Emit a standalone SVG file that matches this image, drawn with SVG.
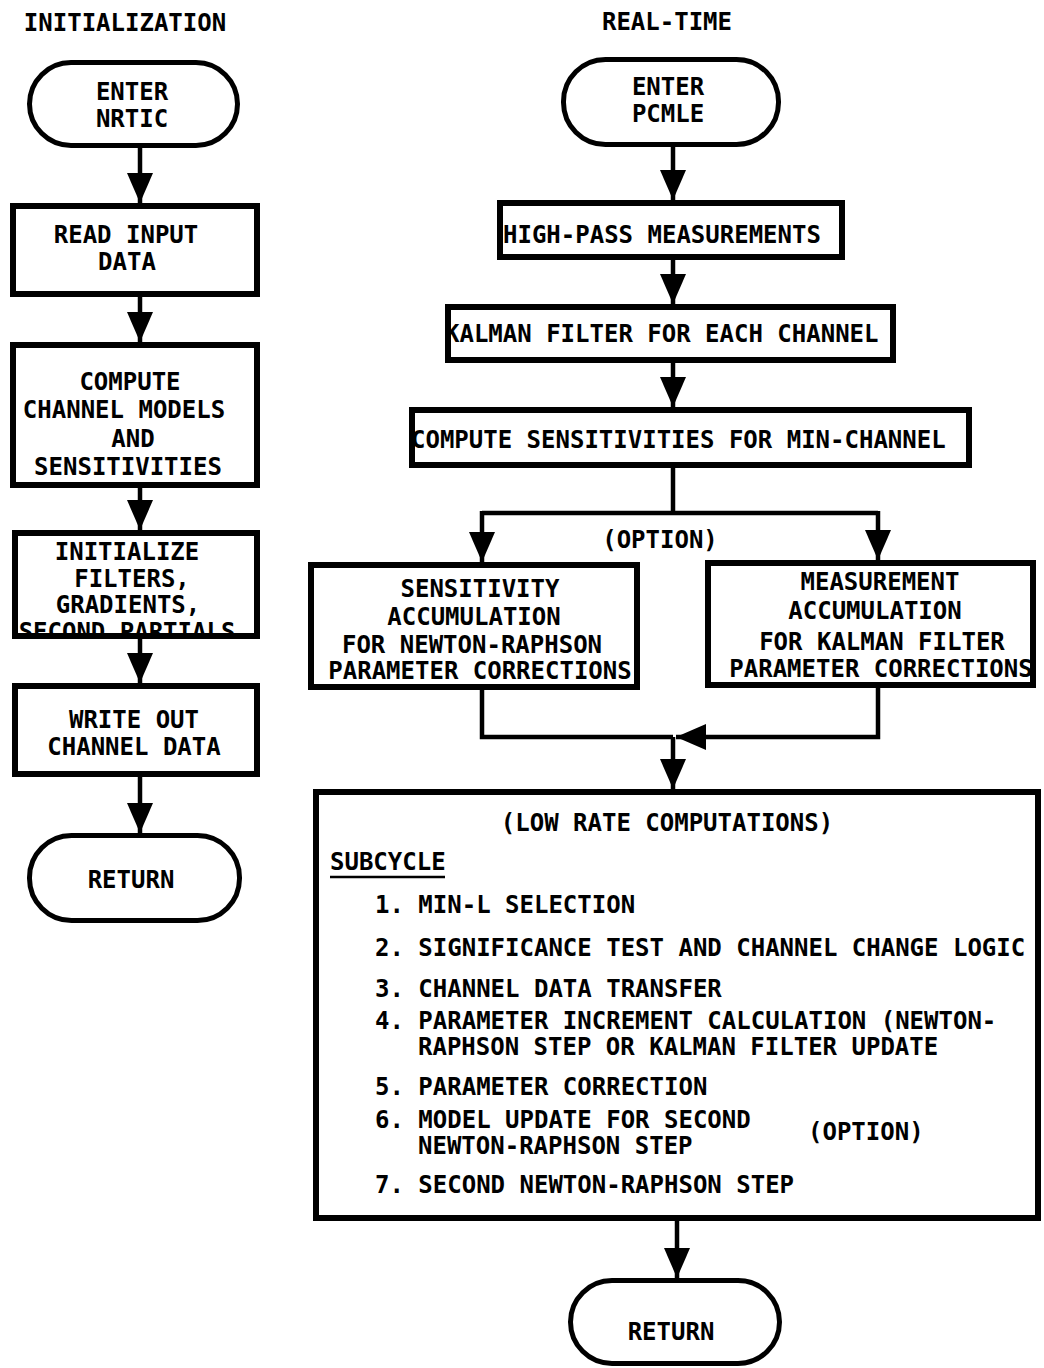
<svg xmlns="http://www.w3.org/2000/svg" width="1044" height="1368" viewBox="0 0 1044 1368">
<style>
text{font-family:"DejaVu Sans Mono","Liberation Mono",monospace;font-weight:bold;font-size:24px;fill:#000}
.c{text-anchor:middle}
.box{fill:none;stroke:#000;stroke-width:6}
.pill{fill:none;stroke:#000;stroke-width:5}
.ln{fill:none;stroke:#000;stroke-width:4.5}
</style>
<defs>
<marker id="ah" markerUnits="userSpaceOnUse" viewBox="0 0 30 26" markerWidth="30" markerHeight="26" refX="30" refY="13" orient="auto">
<path d="M0 0 L30 13 L0 26 Z" fill="#000"/>
</marker>
</defs>
<rect width="1044" height="1368" fill="#fff"/>
<text class="c" x="125" y="31">INITIALIZATION</text>
<text class="c" x="667" y="30">REAL-TIME</text>

<g id="enter-nrtic">
<rect class="pill" x="29.5" y="62.5" width="208" height="83" rx="41.5"/>
<text class="c" x="132" y="100">ENTER</text>
<text class="c" x="132" y="127">NRTIC</text>
</g>
<g id="read-input">
<text class="c" x="126" y="243">READ INPUT</text>
<text class="c" x="127" y="270">DATA</text>
<rect class="box" x="13" y="206" width="244" height="88"/>
</g>
<g id="compute-models">
<text class="c" x="130" y="390">COMPUTE</text>
<text class="c" x="124" y="418">CHANNEL MODELS</text>
<text class="c" x="133" y="447">AND</text>
<text class="c" x="128" y="475">SENSITIVITIES</text>
<rect class="box" x="13" y="345" width="244" height="140"/>
</g>
<g id="initialize">
<text class="c" x="127" y="560">INITIALIZE</text>
<text class="c" x="132" y="587">FILTERS,</text>
<text class="c" x="128" y="613">GRADIENTS,</text>
<text class="c" x="127" y="640">SECOND PARTIALS</text>
<rect fill="#fff" x="10" y="636" width="252" height="20"/>
<rect class="box" x="15" y="533" width="242" height="103"/>
</g>
<g id="write-out">
<text class="c" x="134" y="728">WRITE OUT</text>
<text class="c" x="134" y="755">CHANNEL DATA</text>
<rect class="box" x="15" y="686" width="242" height="88"/>
</g>
<g id="return-left">
<rect class="pill" x="29.5" y="835.5" width="210" height="85" rx="42"/>
<text class="c" x="131" y="888">RETURN</text>
</g>

<g id="enter-pcmle">
<rect class="pill" x="563.5" y="59.5" width="215" height="85" rx="42"/>
<text class="c" x="668" y="95">ENTER</text>
<text class="c" x="668" y="122">PCMLE</text>
</g>
<g id="high-pass">
<text x="503" y="243">HIGH-PASS MEASUREMENTS</text>
<rect class="box" x="500" y="203" width="342" height="54"/>
</g>
<g id="kalman">
<text x="445" y="342">KALMAN FILTER FOR EACH CHANNEL</text>
<rect class="box" x="448" y="307" width="445" height="53"/>
</g>
<g id="compute-sens">
<text x="411" y="448">COMPUTE SENSITIVITIES FOR MIN-CHANNEL</text>
<rect class="box" x="412" y="410" width="557" height="55"/>
</g>
<text class="c" x="660" y="548">(OPTION)</text>
<g id="sens-accum">
<text class="c" x="480" y="597">SENSITIVITY</text>
<text class="c" x="474" y="625">ACCUMULATION</text>
<text class="c" x="472" y="653">FOR NEWTON-RAPHSON</text>
<text class="c" x="480" y="679">PARAMETER CORRECTIONS</text>
<rect class="box" x="311" y="565" width="326" height="122"/>
</g>
<g id="meas-accum">
<text class="c" x="880" y="590">MEASUREMENT</text>
<text class="c" x="875" y="619">ACCUMULATION</text>
<text class="c" x="882" y="650">FOR KALMAN FILTER</text>
<text class="c" x="881" y="677">PARAMETER CORRECTIONS</text>
<rect class="box" x="708" y="563" width="325" height="122"/>
</g>
<g id="low-rate">
<rect class="box" x="316" y="792" width="722" height="426"/>
<text class="c" x="667" y="831">(LOW RATE COMPUTATIONS)</text>
<text x="330" y="870">SUBCYCLE</text>
<line x1="330" y1="877" x2="445" y2="877" stroke="#000" stroke-width="2.5"/>
<text x="375" y="913">1. MIN-L SELECTION</text>
<text x="375" y="956">2. SIGNIFICANCE TEST AND CHANNEL CHANGE LOGIC</text>
<text x="375" y="997">3. CHANNEL DATA TRANSFER</text>
<text x="375" y="1029">4. PARAMETER INCREMENT CALCULATION (NEWTON-</text>
<text x="418" y="1055">RAPHSON STEP OR KALMAN FILTER UPDATE</text>
<text x="375" y="1095">5. PARAMETER CORRECTION</text>
<text x="375" y="1128">6. MODEL UPDATE FOR SECOND</text>
<text x="418" y="1154">NEWTON-RAPHSON STEP</text>
<text x="808" y="1140">(OPTION)</text>
<text x="375" y="1193">7. SECOND NEWTON-RAPHSON STEP</text>
</g>
<g id="return-right">
<rect class="pill" x="570.5" y="1280.5" width="209" height="83" rx="41.5"/>
<text class="c" x="671" y="1340">RETURN</text>
</g>

<g id="connectors">
<path class="ln" d="M140 148 V203" marker-end="url(#ah)"/>
<path class="ln" d="M140 297 V342" marker-end="url(#ah)"/>
<path class="ln" d="M140 488 V530" marker-end="url(#ah)"/>
<path class="ln" d="M140 639 V683" marker-end="url(#ah)"/>
<path class="ln" d="M140 777 V833" marker-end="url(#ah)"/>
<path class="ln" d="M673 147 V200" marker-end="url(#ah)"/>
<path class="ln" d="M673 260 V304" marker-end="url(#ah)"/>
<path class="ln" d="M673 363 V407" marker-end="url(#ah)"/>
<path class="ln" d="M673 468 V513"/>
<path class="ln" d="M482 513 H878"/>
<path class="ln" d="M482 511 V562" marker-end="url(#ah)"/>
<path class="ln" d="M878 511 V560" marker-end="url(#ah)"/>
<path class="ln" d="M482 690 V737 H673"/>
<path class="ln" d="M878 688 V737 H676" marker-end="url(#ah)"/>
<path class="ln" d="M673 737 V789" marker-end="url(#ah)"/>
<path class="ln" d="M677 1221 V1278" marker-end="url(#ah)"/>
</g>
</svg>
